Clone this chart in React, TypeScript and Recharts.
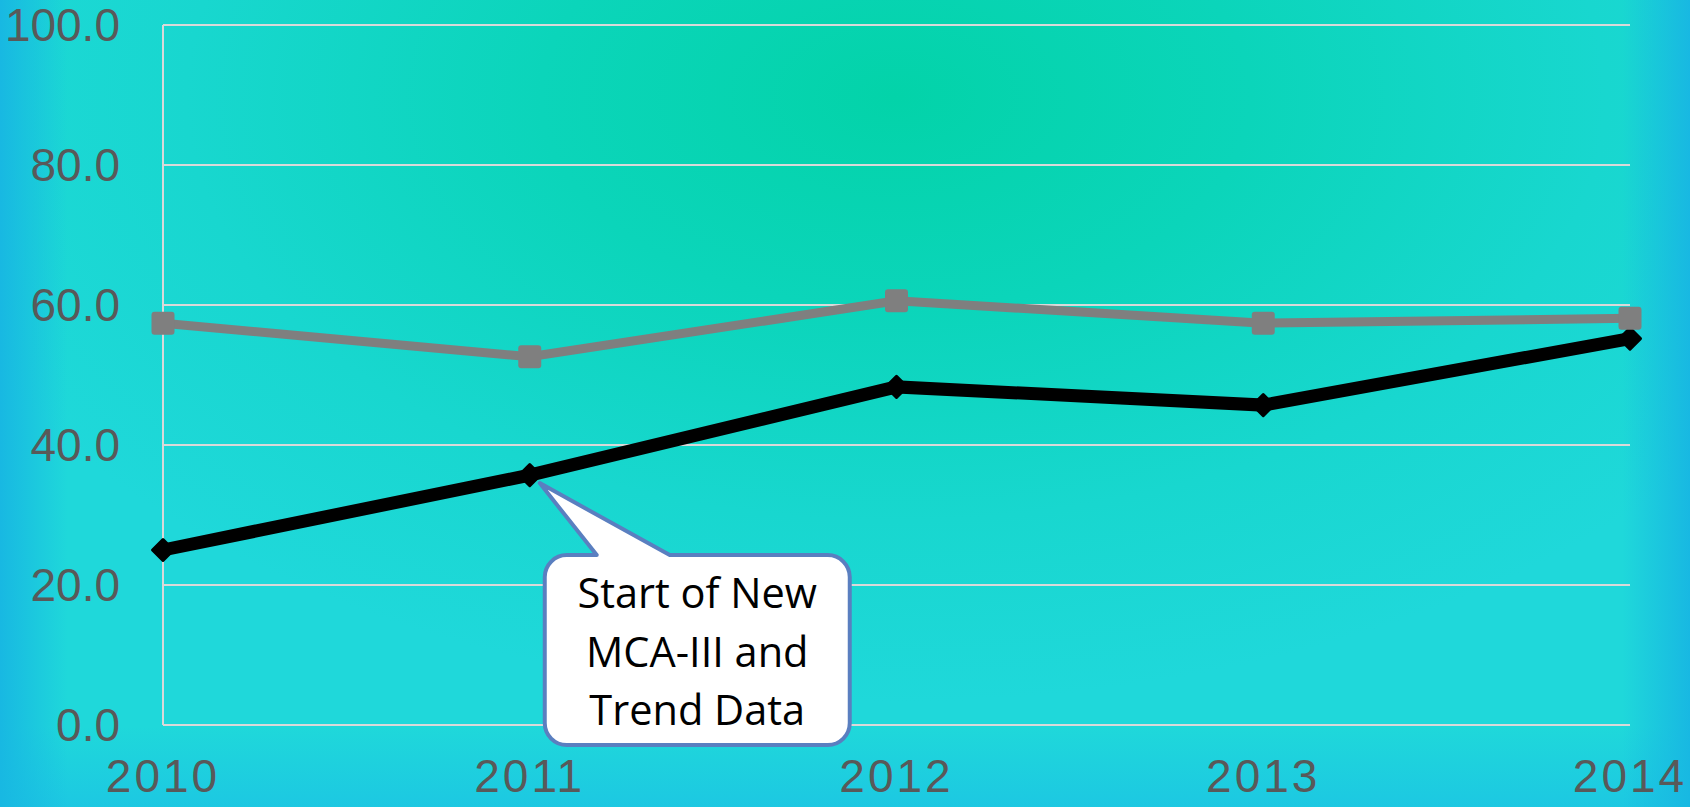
import React from 'react';
import { LineChart, Line, XAxis, YAxis, CartesianGrid, ReferenceDot } from 'recharts';

const years = ['2010', '2011', '2012', '2013', '2014'];
const blackSeries = [25.0, 35.7, 48.3, 45.7, 55.2];
const graySeries = [57.4, 52.6, 60.6, 57.4, 58.1];
const yTicks = [0, 20, 40, 60, 80, 100];
const calloutLines = ['Start of New', 'MCA-III and', 'Trend Data'];

const data = years.map((y, i) => ({ year: y, black: blackSeries[i], gray: graySeries[i] }));

const GrayDot = (props: any) => {
  const { cx, cy } = props;
  if (cx == null || cy == null) return null;
  return <rect x={cx - 11.5} y={cy - 11.5} width={23} height={23} rx={3} ry={3} fill="#7F7F7F" />;
};

const BlackDot = (props: any) => {
  const { cx, cy } = props;
  if (cx == null || cy == null) return null;
  const s = 10.5;
  return (
    <polygon
      points={`${cx},${cy - s} ${cx + s},${cy} ${cx},${cy + s} ${cx - s},${cy}`}
      fill="#000"
      stroke="#000"
      strokeWidth={3}
      strokeLinejoin="round"
    />
  );
};

const Callout = (props: any) => {
  const { cx, cy } = props;
  if (cx == null || cy == null) return null;
  const L = cx + 15, R = cx + 320, T = cy + 80, B = cy + 270, r = 22;
  const tipX = cx + 10, tipY = cy + 8;
  const b1 = cx + 67, b2 = cx + 140;
  const d = `M ${L + r} ${T} L ${b1} ${T} L ${tipX} ${tipY} L ${b2} ${T} L ${R - r} ${T} A ${r} ${r} 0 0 1 ${R} ${T + r} L ${R} ${B - r} A ${r} ${r} 0 0 1 ${R - r} ${B} L ${L + r} ${B} A ${r} ${r} 0 0 1 ${L} ${B - r} L ${L} ${T + r} A ${r} ${r} 0 0 1 ${L + r} ${T} Z`;
  const tx = (L + R) / 2;
  const baselines = [cy + 133, cy + 192, cy + 250];
  return (
    <g>
      <path d={d} fill="#FFFFFF" stroke="#5A7FC0" strokeWidth={4} strokeLinejoin="round" />
      {calloutLines.map((t, i) => (
        <text key={i} x={tx} y={baselines[i]} textAnchor="middle" fontFamily="'Open Sans', sans-serif" fontSize={41.5} fill="#000">
          {t}
        </text>
      ))}
    </g>
  );
};

export default function App() {
  const bg =
    'linear-gradient(to right, rgba(24,184,226,1) 0%, rgba(30,214,220,0) 4%, rgba(30,214,220,0) 96%, rgba(24,184,226,1) 100%),' +
    'linear-gradient(to bottom, rgba(28,200,226,0) 90%, rgba(28,196,228,0.8) 100%),' +
    'radial-gradient(ellipse 60% 75% at 53% 12%, #03D3A9 0%, #0BD5BA 35%, #18D7CF 70%, #1FD8DA 100%)';
  return (
    <div style={{ position: 'absolute', left: 0, top: 0, width: 1690, height: 807, background: bg, backgroundColor: '#1FD8DA' }}>
      <LineChart width={1690} height={807} data={data} margin={{ top: 25, right: 60, left: 0, bottom: 0 }}>
        <CartesianGrid horizontal vertical={false} stroke="#D9D9D9" strokeWidth={2} />
        <XAxis
          dataKey="year"
          height={82}
          tickLine={false}
          tickSize={0}
          tickMargin={34}
          axisLine={{ stroke: '#D9D9D9', strokeWidth: 2 }}
          tick={{ fill: '#595959', fontSize: 46, fontFamily: "'Liberation Sans', Arial, sans-serif", letterSpacing: 3 }}
          interval={0}
        />
        <YAxis
          width={163}
          domain={[0, 100]}
          ticks={yTicks}
          tickFormatter={(v: number) => v.toFixed(1)}
          tickLine={false}
          tickSize={0}
          tickMargin={43}
          axisLine={{ stroke: '#D9D9D9', strokeWidth: 2 }}
          tick={{ fill: '#595959', fontSize: 46, fontFamily: "'Liberation Sans', Arial, sans-serif" }}
          interval={0}
        />
        <Line
          type="linear"
          dataKey="black"
          stroke="#000000"
          strokeWidth={13}
          dot={<BlackDot />}
          activeDot={false}
          isAnimationActive={false}
        />
        <Line
          type="linear"
          dataKey="gray"
          stroke="#7F7F7F"
          strokeWidth={9}
          dot={<GrayDot />}
          activeDot={false}
          isAnimationActive={false}
        />
        <ReferenceDot x={years[1]} y={blackSeries[1]} shape={<Callout />} ifOverflow="visible" />
      </LineChart>
    </div>
  );
}
